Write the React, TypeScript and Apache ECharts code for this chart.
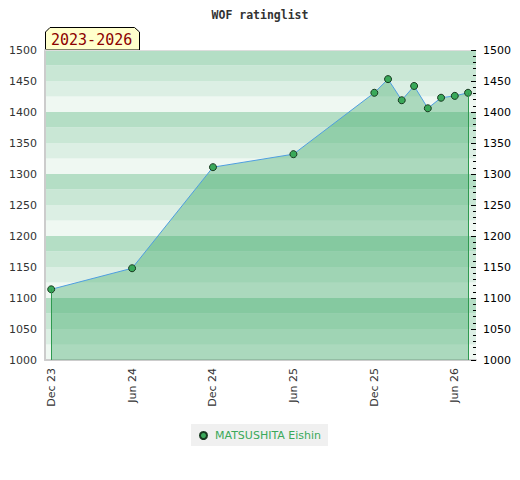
import React, { useEffect, useRef } from "react";
import * as echarts from "echarts";

const playerName = "MATSUSHITA Eishin";
const chartTitle = "WOF ratinglist";
const periodLabel = "2023-2026";

const ratingDates = [
  "2023-12-01",
  "2024-06-01",
  "2024-12-01",
  "2025-06-01",
  "2025-12-01",
  "2026-01-01",
  "2026-02-01",
  "2026-03-01",
  "2026-04-01",
  "2026-05-01",
  "2026-06-01",
  "2026-07-01",
];
const ratingValues = [1114, 1148, 1311, 1332, 1431, 1453, 1419, 1442, 1406, 1423, 1426, 1431];

const tickDates = ["2023-12-01", "2024-06-01", "2024-12-01", "2025-06-01", "2025-12-01", "2026-06-01"];
const tickLabels = ["Dec 23", "Jun 24", "Dec 24", "Jun 25", "Dec 25", "Jun 26"];

const axisMinDate = "2023-11-17";
const axisMaxDate = "2026-07-19";
const yMin = 1000;
const yMax = 1500;

const bandColors = ["#eff8f2", "#dcefe4", "#c9e7d5", "#b4dec5"];

const ts = (d: string) => new Date(d + "T00:00:00Z").getTime();

export default function App() {
  const ref = useRef<HTMLDivElement>(null);

  useEffect(() => {
    if (!ref.current) return;
    const chart = echarts.init(ref.current, undefined, { renderer: "svg" });
    const tickTs = tickDates.map(ts);
    const data = ratingDates.map((d, i) => [ts(d), ratingValues[i]]);
    const first = data[0];
    const last = data[data.length - 1];
    const font = "DejaVu Sans";
    const plain = (v: number) => String(v);

    chart.setOption({
      animation: false,
      title: {
        text: chartTitle,
        left: "center",
        top: 4,
        textStyle: {
          fontFamily: "DejaVu Sans Mono",
          fontWeight: "bold",
          fontSize: 11.5,
          color: "#333",
        },
      },
      grid: { left: 45, right: 44, top: 50, bottom: 120, containLabel: false },
      legend: {
        bottom: 34,
        left: "center",
        icon: "circle",
        itemWidth: 7,
        itemHeight: 7,
        itemGap: 10,
        backgroundColor: "#f0f0f0",
        padding: [6, 7, 5, 8],
        textStyle: { color: "#3aa95a", fontSize: 11, fontFamily: font, padding: [0, 0, 0, 3] },
        data: [playerName],
      },
      xAxis: [
        {
          type: "value",
          min: ts(axisMinDate),
          max: ts(axisMaxDate),
          axisLine: { show: true, lineStyle: { color: "#cccccc", width: 2 } },
          axisTick: { show: false },
          splitLine: { show: false },
          axisLabel: {
            customValues: tickTs,
            rotate: 90,
            margin: 8,
            color: "#333",
            fontSize: 11,
            fontFamily: font,
            formatter: (v: number) => {
              const i = tickTs.indexOf(v);
              return i >= 0 ? tickLabels[i] : "";
            },
          },
        },
        {
          type: "value",
          position: "top",
          min: ts(axisMinDate),
          max: ts(axisMaxDate),
          axisLine: { show: true, lineStyle: { color: "#dddddd", width: 1 } },
          axisTick: { show: false },
          axisLabel: { show: false },
          splitLine: { show: false },
        },
      ],
      yAxis: [
        {
          type: "value",
          min: yMin,
          max: yMax,
          interval: 50,
          position: "left",
          axisLine: { show: true, lineStyle: { color: "#cccccc", width: 2 } },
          axisTick: { show: false },
          splitLine: { show: false },
          axisLabel: { color: "#333", fontSize: 11, fontFamily: font, margin: 8, formatter: plain },
        },
        {
          type: "value",
          min: yMin,
          max: yMax,
          interval: 50,
          position: "right",
          axisLine: { show: false },
          axisTick: { show: true, inside: true, length: 5, lineStyle: { color: "#000" } },
          minorTick: { show: true, splitNumber: 5, length: 3, lineStyle: { color: "#000" } },
          splitLine: { show: false },
          axisLabel: { color: "#000", fontSize: 11, fontFamily: font, margin: 7, formatter: plain },
        },
        {
          type: "value",
          min: yMin,
          max: yMax,
          interval: 25,
          position: "left",
          axisLine: { show: false },
          axisTick: { show: false },
          axisLabel: { show: false },
          splitLine: { show: false },
          splitArea: { show: true, areaStyle: { color: bandColors } },
          z: 0,
        },
      ],
      series: [
        {
          name: playerName,
          type: "line",
          xAxisIndex: 0,
          yAxisIndex: 0,
          data,
          symbol: "circle",
          symbolSize: 7,
          lineStyle: { color: "#4f9ee0", width: 1 },
          itemStyle: { color: "#3aa95a", borderColor: "#183a20", borderWidth: 1 },
          areaStyle: { color: "rgba(52,164,96,0.52)", origin: "start" },
          markLine: {
            silent: true,
            symbol: "none",
            label: { show: false },
            lineStyle: { color: "#2f9a50", width: 1, type: "solid" },
            data: [
              [{ coord: [first[0], first[1]] }, { coord: [first[0], yMin] }],
              [{ coord: [last[0], last[1]] }, { coord: [last[0], yMin] }],
            ],
          },
          z: 3,
        },
      ],
      graphic: [
        {
          type: "group",
          z: 100,
          children: [
            {
              type: "polygon",
              shape: {
                points: [
                  [45.5, 50],
                  [45.5, 32],
                  [50, 27.5],
                  [134.5, 27.5],
                  [139.5, 32],
                  [139.5, 50],
                ],
              },
              style: { fill: "#ffffcc", stroke: "#000", lineWidth: 1 },
            },
            {
              type: "text",
              x: 51,
              y: 39.5,
              style: {
                text: periodLabel,
                fill: "#8b0000",
                font: "15px 'DejaVu Sans Mono'",
                verticalAlign: "middle",
              },
            },
          ],
        },
      ],
    });
    return () => chart.dispose();
  }, []);

  return (
    <div
      ref={ref}
      style={{ position: "fixed", left: 0, top: 0, width: 520, height: 480, background: "#fff" }}
    />
  );
}
